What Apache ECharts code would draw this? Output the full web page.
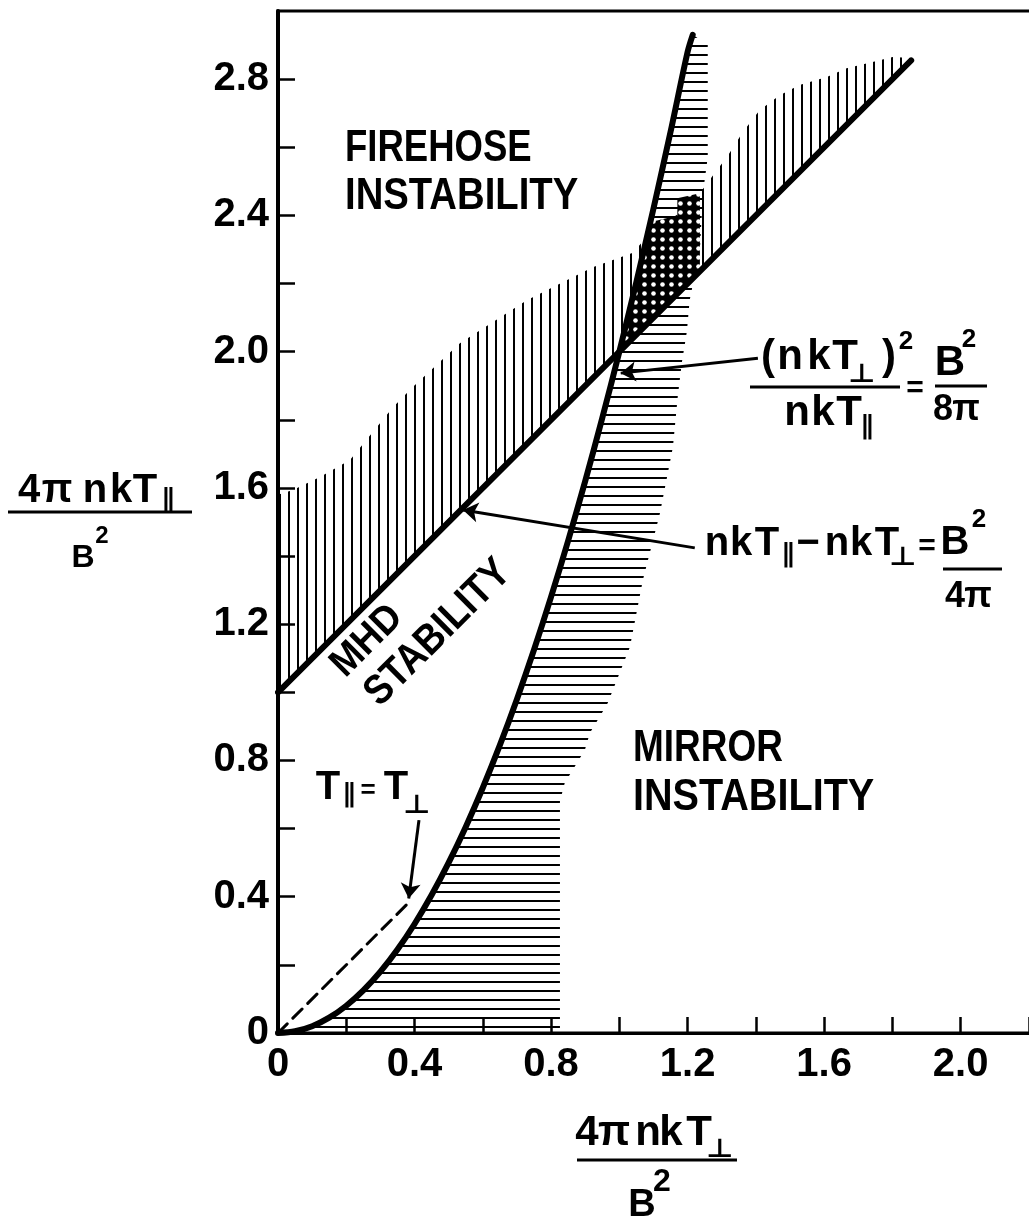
<!DOCTYPE html>
<html><head><meta charset="utf-8">
<script src="https://cdn.jsdelivr.net/npm/echarts@6/dist/echarts.min.js"></script>
<style>html,body{margin:0;padding:0;background:#fff}#c{width:1029px;height:1225px}</style>
</head><body><div id="c"></div>
<script>
// ---------------- data ----------------
const xTickLabels = ['0', '0.4', '0.8', '1.2', '1.6', '2.0'];
const yTickLabels = ['0', '0.4', '0.8', '1.2', '1.6', '2.0', '2.4', '2.8'];

// firehose boundary  nkT|| - nkT_perp = B^2/4pi
const firehoseX = [0, 1.855];
const firehoseY = [1.0, 2.855];

// mirror boundary (nkT_perp)^2 / nkT|| = B^2/8pi
const mirrorX = [0, 0.05, 0.1, 0.15, 0.2, 0.25, 0.3, 0.35, 0.4, 0.45, 0.5, 0.55, 0.6, 0.65, 0.7, 0.75, 0.8, 0.85, 0.9, 0.95, 1.0, 1.05, 1.1, 1.15, 1.2, 1.215];
const mirrorY = [0, 0.005, 0.02, 0.045, 0.08, 0.125, 0.18, 0.245, 0.32, 0.405, 0.5, 0.605, 0.72, 0.845, 0.98, 1.125, 1.28, 1.445, 1.62, 1.805, 2.0, 2.205, 2.42, 2.645, 2.88, 2.93];

// T|| = T_perp (dashed)
const isotropicX = [0, 0.385];
const isotropicY = [0, 0.385];

// upper edge of the vertical (firehose) hatching
const firehoseHatchTopX = [0, 0.044, 0.123, 0.211, 0.337, 0.395, 0.533, 0.729, 0.922, 1.04, 1.1, 1.2, 1.236, 1.286, 1.315, 1.362, 1.411, 1.47, 1.528, 1.608, 1.666, 1.742, 1.801, 1.855];
const firehoseHatchTopY = [1.58, 1.594, 1.632, 1.682, 1.837, 1.896, 2.025, 2.151, 2.248, 2.29, 2.36, 2.42, 2.465, 2.533, 2.571, 2.645, 2.709, 2.753, 2.783, 2.806, 2.832, 2.85, 2.865, 2.862];

// right edge of the horizontal (mirror) hatching
const mirrorHatchRightY = [0, 0.68, 0.734, 0.831, 0.881, 0.939, 0.969, 1.133, 1.33, 1.526, 1.72, 1.867, 1.967, 2.06, 2.151, 2.298, 2.466, 2.571, 2.9];
const mirrorHatchRightX = [0.826, 0.826, 0.84, 0.899, 0.914, 0.949, 0.966, 1.031, 1.069, 1.119, 1.157, 1.171, 1.183, 1.198, 1.206, 1.236, 1.245, 1.259, 1.259];

// doubly unstable (cross-hatched) patch
const overlapX = [1.0, 1.05, 1.09, 1.17, 1.17, 1.236, 1.236];
const overlapY = [2.0, 2.205, 2.38, 2.40, 2.45, 2.465, 2.236];

// annotation arrows [start, tip]
const arrowIsoX = [0.413, 0.383];
const arrowIsoY = [0.625, 0.395];
const arrowMirrorX = [1.406, 1.004];
const arrowMirrorY = [1.981, 1.937];
const arrowFireX = [1.221, 0.542];
const arrowFireY = [1.424, 1.535];

// ---------------- helpers ----------------
const pairs = (xs, ys) => xs.map((x, i) => [x, ys[i]]);
function makePattern(draw) {
  const c = document.createElement('canvas');
  c.width = 9; c.height = 9;
  const ctx = c.getContext('2d');
  draw(ctx);
  return { image: c, repeat: 'repeat' };
}
const vPattern = makePattern(ctx => { ctx.fillStyle = '#000'; ctx.fillRect(0, 0, 2, 9); });
const hPattern = makePattern(ctx => { ctx.fillStyle = '#000'; ctx.fillRect(0, 0, 9, 2); });
const dotPattern = makePattern(ctx => {
  ctx.fillStyle = '#000'; ctx.fillRect(0, 0, 9, 9);
  ctx.fillStyle = '#fff'; ctx.beginPath(); ctx.arc(5.5, 5.5, 2.3, 0, Math.PI * 2); ctx.fill();
});

function polySeries(points, fill, z) {
  return {
    type: 'custom', coordinateSystem: 'cartesian2d', silent: true, z: z,
    data: [[0, 0]],
    renderItem: function (params, api) {
      return { type: 'polygon', shape: { points: points.map(p => api.coord(p)) }, style: { fill: fill, stroke: null } };
    }
  };
}

const fmt = v => Math.abs(v) < 1e-9 ? '0' : (Math.round(v * 10) / 10).toFixed(1);

const FONT = "'Liberation Sans','DejaVu Sans',sans-serif";
function txt(s, x, y, size, opt) {
  opt = opt || {};
  return {
    type: 'text', x: x, y: y, z: 100, rotation: opt.rot || 0, scaleX: opt.sx || 1, silent: true,
    style: {
      text: s, fill: '#000', fontSize: size, fontWeight: 'bold', fontFamily: opt.family || FONT,
      align: opt.align || 'center', verticalAlign: 'middle',
      textAlign: opt.align || 'center', textVerticalAlign: 'middle'
    }
  };
}
function word(chars, xs, y, size) { return chars.map((c, i) => txt(c, xs[i], y, size)); }
function bar(x1, x2, y) {
  return { type: 'line', z: 100, silent: true, shape: { x1: x1, y1: y, x2: x2, y2: y }, style: { stroke: '#000', lineWidth: 3 } };
}
const PERP = (x, y) => txt('⊥', x, y, 26, { sx: 1.15 });
const PAR = (x, y) => txt('∥', x, y, 26);

// ---------------- polygons built from boundary arrays ----------------
const firehosePoly = pairs(firehoseHatchTopX, firehoseHatchTopY).concat(pairs(firehoseX, firehoseY).reverse());
const mirrorPoly = pairs(mirrorX, mirrorY).concat(pairs(mirrorHatchRightX, mirrorHatchRightY).reverse());
const overlapPoly = pairs(overlapX, overlapY);

// ---------------- text layout ----------------
const graphics = [].concat(
  // y-axis title
  word(['4', 'π', 'n', 'k', 'T'], [29, 57, 95, 121, 145], 491, 40),
  [PAR(168, 500), bar(8, 192, 512), txt('B', 83, 558, 32), txt('2', 102, 536, 24)],
  // x-axis title
  word(['4', 'π', 'n', 'k', 'T'], [587, 614, 648, 671, 699], 1133, 42),
  [PERP(720, 1150), bar(577, 737, 1160), txt('2', 662, 1182, 32), txt('B', 642, 1206, 38)],
  // mirror criterion
  word(['(', 'n', 'k', 'T'], [768, 790, 819, 845], 357, 42),
  [PERP(862, 375), txt(')', 889, 357, 42), txt('2', 906, 342, 26), bar(750, 900, 387)],
  word(['n', 'k', 'T'], [797, 823, 849], 413, 42),
  [PAR(867, 427), txt('=', 915, 389, 30), txt('B', 950, 363, 42), txt('2', 969, 340, 26), bar(935, 987, 386)],
  word(['8', 'π'], [943, 966], 410, 36),
  // firehose criterion
  word(['n', 'k', 'T'], [717, 741, 767], 544, 40),
  [PAR(788, 555), txt('−', 808, 544, 40)],
  word(['n', 'k', 'T'], [837, 861, 887], 544, 40),
  [PERP(903, 558), txt('=', 927, 547, 30), txt('B', 955, 543, 40), txt('2', 979, 520, 26), bar(943, 1002, 569)],
  word(['4', 'π'], [955, 978], 597, 36),
  // T|| = T_perp
  [txt('T', 328, 788, 40), PAR(349, 795), txt('=', 368, 791, 26), txt('T', 396, 788, 40), PERP(417, 806)],
  // region labels
  [txt('FIREHOSE', 345, 149, 44, { align: 'left', sx: 0.83 }), txt('INSTABILITY', 345, 197, 44, { align: 'left', sx: 0.87 }),
   txt('MIRROR', 633, 749, 44, { align: 'left', sx: 0.84 }), txt('INSTABILITY', 633, 798, 44, { align: 'left', sx: 0.9 }),
   txt('MHD', 367, 641, 40, { rot: Math.PI / 4, sx: 0.92 }), txt('STABILITY', 438, 633, 42, { rot: Math.PI / 4, sx: 0.88 })]
);

const blackLine = (data, width, z, type) => ({
  type: 'line', data: data, showSymbol: false, symbol: 'none', z: z, silent: true,
  lineStyle: { color: '#000', width: width, type: type || 'solid', cap: 'round', join: 'round' }
});
const arrow = (xs, ys) => ({
  type: 'lines', coordinateSystem: 'cartesian2d', z: 6, silent: true,
  symbol: ['none', 'arrow'], symbolSize: 15,
  lineStyle: { color: '#000', width: 3, opacity: 1, curveness: 0 },
  data: [{ coords: pairs(xs, ys) }]
});

const chart = echarts.init(document.getElementById('c'), null, { renderer: 'canvas' });
chart.setOption({
  animation: false,
  backgroundColor: '#fff',
  grid: { left: 278, top: 11, width: 768, height: 1022, outerBoundsMode: 'none', containLabel: false, show: true, borderColor: '#000', borderWidth: 3, backgroundColor: 'transparent' },
  xAxis: {
    type: 'value', min: 0, max: 2.25, interval: 0.2,
    axisLine: { lineStyle: { color: '#000', width: 3 } },
    axisTick: { inside: true, length: 16, lineStyle: { color: '#000', width: 2.5 } },
    splitLine: { show: false },
    axisLabel: {
      margin: 12, color: '#000', fontSize: 40, fontWeight: 'bold', fontFamily: FONT,
      showMaxLabel: false,
      formatter: v => { const s = fmt(v); return xTickLabels.includes(s) ? s : ''; }
    }
  },
  yAxis: {
    type: 'value', min: 0, max: 3.0, interval: 0.2,
    axisLine: { lineStyle: { color: '#000', width: 4 } },
    axisTick: { inside: true, length: 17, lineStyle: { color: '#000', width: 2.5 } },
    splitLine: { show: false },
    axisLabel: {
      margin: 9, color: '#000', fontSize: 40, fontWeight: 'bold', fontFamily: FONT,
      showMaxLabel: false,
      formatter: v => { const s = fmt(v); return yTickLabels.includes(s) ? s : ''; }
    }
  },
  series: [
    polySeries(firehosePoly, vPattern, 1),
    polySeries(mirrorPoly, hPattern, 1),
    polySeries(overlapPoly, dotPattern, 2),
    Object.assign(blackLine(pairs(mirrorX, mirrorY), 6, 5), { smooth: 0.3 }),
    blackLine(pairs(firehoseX, firehoseY), 6, 5),
    blackLine(pairs(isotropicX, isotropicY), 3, 5, [13, 8]),
    arrow(arrowIsoX, arrowIsoY),
    arrow(arrowMirrorX, arrowMirrorY),
    arrow(arrowFireX, arrowFireY)
  ],
  graphic: graphics
});
</script></body></html>
